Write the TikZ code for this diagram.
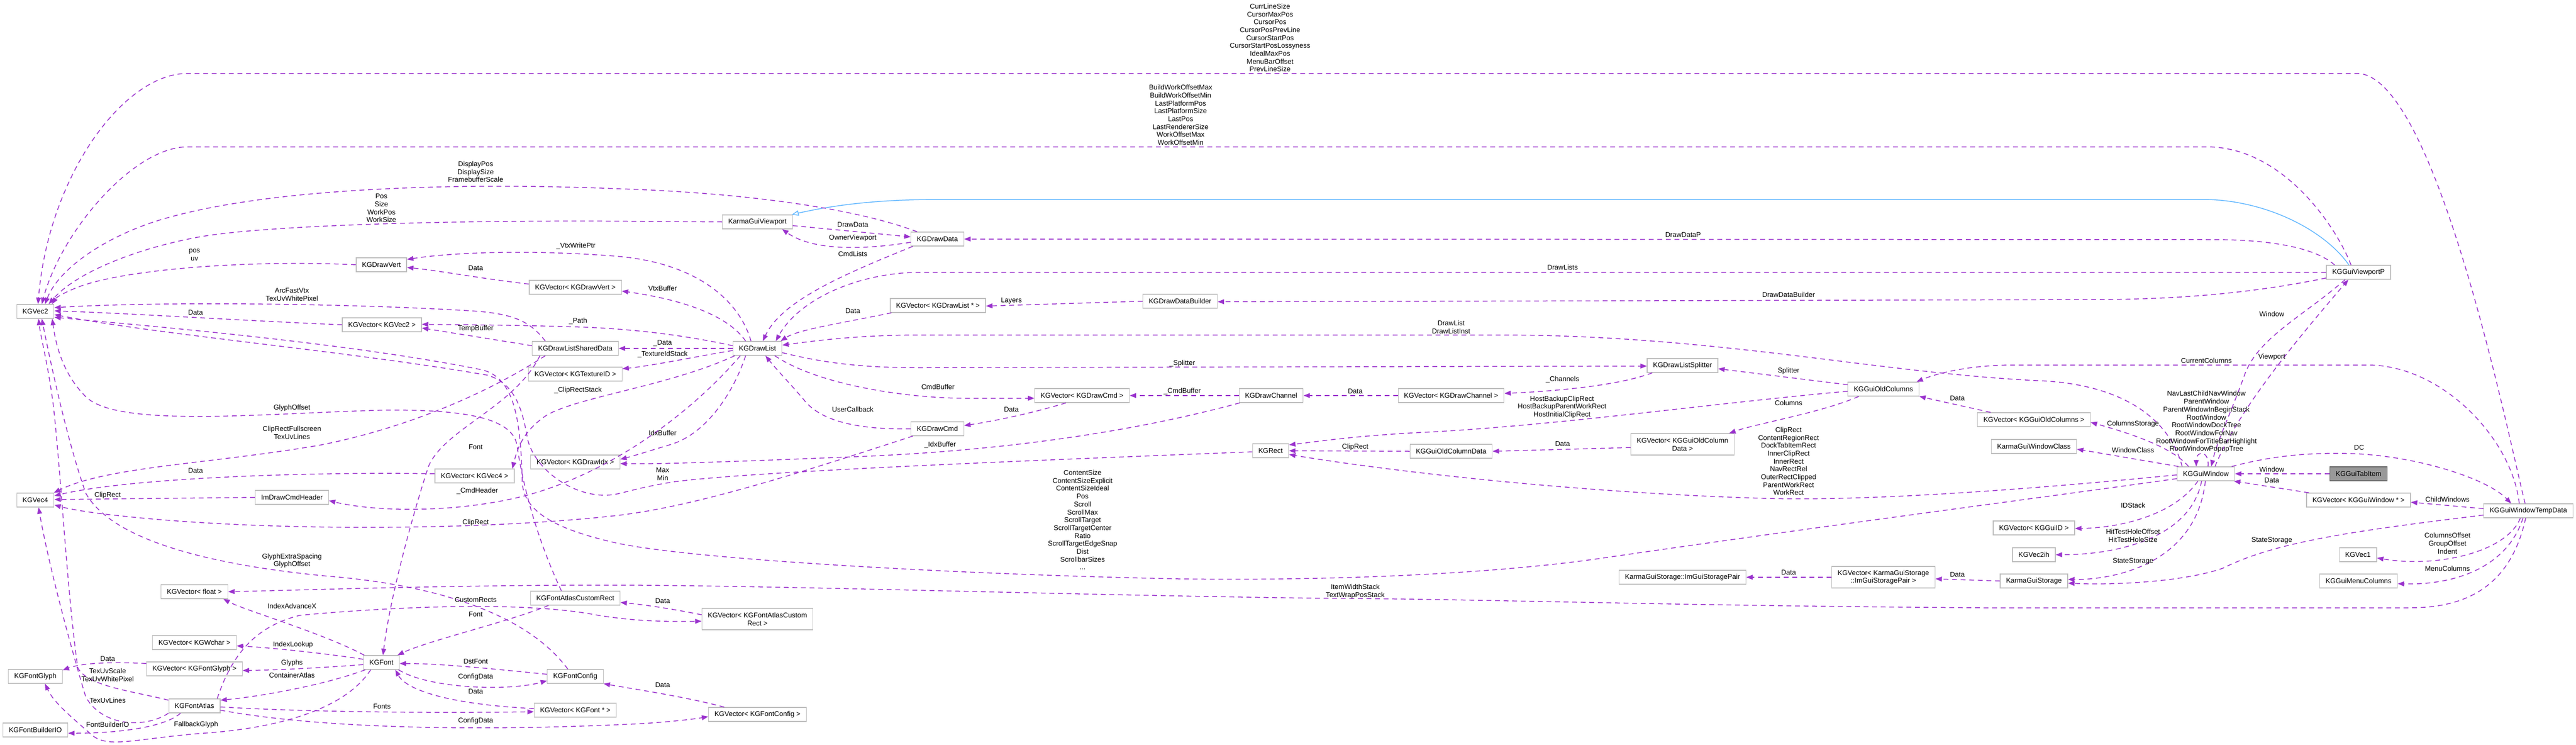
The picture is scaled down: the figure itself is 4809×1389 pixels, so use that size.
\documentclass[tikz,border=0pt]{standalone}
\usepackage{fontspec}
\setmainfont{Liberation Sans}
\usetikzlibrary{arrows.meta}
\definecolor{ecol}{HTML}{9A32CD}
\definecolor{icol}{HTML}{63B8FF}
\definecolor{bcol}{HTML}{BFBFBF}
\definecolor{hlfill}{HTML}{999999}
\definecolor{hldraw}{HTML}{666666}
\begin{document}
\begin{tikzpicture}[x=1pt,y=-1pt,
  every node/.style={font=\fontsize{13}{14.7}\selectfont},
  cls/.style={draw=bcol,fill=white,line width=1.3pt,minimum height=26pt,inner xsep=11pt,inner ysep=2pt,align=center},
  cls2/.style={cls,minimum height=40pt},
  hl/.style={cls,fill=hlfill,draw=hldraw},
  elab/.style={inner sep=0pt,align=center},
  usage/.style={draw=ecol,line width=1.5pt,dash pattern=on 9pt off 7pt,-{Triangle[length=12pt,width=9pt]}},
  inh/.style={draw=icol,line width=1.5pt,-{Triangle[open,length=13pt,width=10pt]}}]
\fill[white] (0,0) rectangle (4809,1389);
\useasboundingbox (0,0) rectangle (4809,1389);

% ---------------- nodes ----------------
\node[cls] (KGVec2) at (66,581) {KGVec2};
\node[cls] (KGVec4) at (66,933) {KGVec4};
\node[cls] (KGFontGlyph) at (66,1262) {KGFontGlyph};
\node[cls] (KGFontBuilderIO) at (66,1362) {KGFontBuilderIO};
\node[cls] (KGDrawVert) at (712,494) {KGDrawVert};
\node[cls] (KGVectorVec2) at (713,606) {KGVector< KGVec2 >};
\node[cls] (ImDrawCmdHeader) at (545,928) {ImDrawCmdHeader};
\node[cls] (KGVectorFloat) at (363,1104) {KGVector< float >};
\node[cls] (KGVectorWchar) at (363,1199) {KGVector< KGWchar >};
\node[cls] (KGVectorFontGlyph) at (363,1248) {KGVector< KGFontGlyph >};
\node[cls] (KGFontAtlas) at (363,1317) {KGFontAtlas};
\node[cls] (KGFont) at (712,1236) {KGFont};
\node[cls] (KGVectorDrawVert) at (1074,536) {KGVector< KGDrawVert >};
\node[cls] (KGDrawListSharedData) at (1074,650) {KGDrawListSharedData};
\node[cls] (KGVectorTextureID) at (1074,698) {KGVector< KGTextureID >};
\node[cls] (KGVectorDrawIdx) at (1074,862) {KGVector< KGDrawIdx >};
\node[cls] (KGVectorVec4) at (886,888) {KGVector< KGVec4 >};
\node[cls] (KGFontAtlasCustomRect) at (1074,1116) {KGFontAtlasCustomRect};
\node[cls] (KGFontConfig) at (1074,1262) {KGFontConfig};
\node[cls] (KGVectorFontPtr) at (1074,1325) {KGVector< KGFont * >};
\node[cls] (KarmaGuiViewport) at (1414,414) {KarmaGuiViewport};
\node[cls] (KGDrawList) at (1414,650) {KGDrawList};
\node[cls2] (KGVectorCustomRect) at (1414,1155) {KGVector< KGFontAtlasCustom\\Rect >};
\node[cls] (KGVectorFontConfig) at (1414,1333) {KGVector< KGFontConfig >};
\node[cls] (KGDrawData) at (1750,446) {KGDrawData};
\node[cls] (KGVectorDrawListPtr) at (1751,570) {KGVector< KGDrawList * >};
\node[cls] (KGDrawCmd) at (1750,800) {KGDrawCmd};
\node[cls] (KGVectorDrawCmd) at (2020,738) {KGVector< KGDrawCmd >};
\node[cls] (KGDrawDataBuilder) at (2203,562) {KGDrawDataBuilder};
\node[cls] (KGDrawChannel) at (2373,738) {KGDrawChannel};
\node[cls] (KGRect) at (2372,841) {KGRect};
\node[cls] (KGVectorDrawChannel) at (2709,738) {KGVector< KGDrawChannel >};
\node[cls] (KGGuiOldColumnData) at (2709,842) {KGGuiOldColumnData};
\node[cls] (KGDrawListSplitter) at (3141,682) {KGDrawListSplitter};
\node[cls2] (KGVectorOldColumnData) at (3141,829) {KGVector< KGGuiOldColumn\\Data >};
\node[cls] (StoragePair) at (3141,1077) {KarmaGuiStorage::ImGuiStoragePair};
\node[cls] (KGGuiOldColumns) at (3516,726) {KGGuiOldColumns};
\node[cls2] (KGVectorStoragePair) at (3516,1077) {KGVector< KarmaGuiStorage\\::ImGuiStoragePair >};
\node[cls] (KGVectorOldColumns) at (3797,783) {KGVector< KGGuiOldColumns >};
\node[cls] (KarmaGuiWindowClass) at (3797,833) {KarmaGuiWindowClass};
\node[cls] (KGVectorGuiID) at (3797,985) {KGVector< KGGuiID >};
\node[cls] (KGVec2ih) at (3797,1035) {KGVec2ih};
\node[cls] (KarmaGuiStorage) at (3797,1084) {KarmaGuiStorage};
\node[cls] (KGGuiWindow) at (4118,884) {KGGuiWindow};
\node[cls] (KGGuiViewportP) at (4403,508) {KGGuiViewportP};
\node[hl] (KGGuiTabItem) at (4403,884) {KGGuiTabItem};
\node[cls] (KGVectorWindowPtr) at (4403,933) {KGVector< KGGuiWindow * >};
\node[cls] (KGVec1) at (4402,1035) {KGVec1};
\node[cls] (KGGuiMenuColumns) at (4403,1084) {KGGuiMenuColumns};
\node[cls] (KGGuiWindowTempData) at (4720,953) {KGGuiWindowTempData};

% ---------------- edges ----------------
\draw[usage] ([xshift=-6pt]KGGuiWindowTempData.north) .. controls (4690,850) and (4550,137) .. (4400,137) -- (350,137) .. controls (230,137) and (90,330) .. ([xshift=5pt]KGVec2.north);
\draw[usage] ([xshift=-14pt]KGGuiViewportP.north) .. controls (4360,420) and (4260,274) .. (4120,274) -- (350,274) .. controls (250,274) and (115,430) .. ([xshift=12pt]KGVec2.north);
\draw[inh] ([xshift=-18pt]KGGuiViewportP.north) .. controls (4340,430) and (4230,372) .. (4110,372) -- (1760,372) .. controls (1640,372) and (1560,382) .. ([xshift=-2pt]KarmaGuiViewport.north east);
\draw[usage] ([xshift=16pt]KGGuiViewportP.north west) .. controls (4320,460) and (4230,447) .. (4130,447) -- (KGDrawData.east);
\draw[usage] (KGGuiViewportP.west) -- (1720,508) .. controls (1600,508) and (1490,560) .. ([xshift=-12pt]KGDrawList.north east);
\draw[usage] (KGGuiViewportP.190) .. controls (4200,548) and (4060,559) .. (3900,559) -- ([yshift=-1pt]KGDrawDataBuilder.east);
\draw[usage] ([xshift=-25pt]KGGuiViewportP.south) .. controls (4300,590) and (4215,630) .. (4190,700) .. controls (4165,770) and (4140,820) .. ([xshift=10pt]KGGuiWindow.north);
\draw[usage] ([xshift=17pt]KGGuiWindow.north) .. controls (4180,760) and (4300,620) .. ([xshift=-19pt]KGGuiViewportP.south);
\draw[usage] ([xshift=4pt]KGGuiWindow.north) .. controls (4125,840) and (4100,840) .. ([xshift=-18pt]KGGuiWindow.north);
\draw[usage] ([xshift=-6pt]KGGuiWindow.north east) .. controls (4250,848) and (4320,845) .. (4380,846) .. controls (4500,848) and (4640,890) .. ([xshift=-32pt]KGGuiWindowTempData.north);
\draw[usage] ([xshift=-17pt]KGGuiWindowTempData.north) .. controls (4690,820) and (4560,681) .. (4420,681) -- (3760,681) .. controls (3680,681) and (3620,695) .. ([xshift=-5pt]KGGuiOldColumns.north east);
\draw[usage] ([xshift=10pt]KGGuiWindow.north west) .. controls (4050,780) and (3960,715) .. (3800,710) .. controls (3500,695) and (3200,625) .. (2800,625) -- (1720,625) .. controls (1600,625) and (1520,636) .. ([yshift=6pt]KGDrawList.east);
\draw[usage] ([yshift=-8pt]KGDrawList.east) .. controls (1550,680) and (1620,686) .. (1720,686) -- ([yshift=-1pt]KGDrawListSplitter.west);
\draw[usage] (KGGuiOldColumns.173) -- ([yshift=-6pt]KGDrawListSplitter.east);
\draw[usage] ([xshift=-46pt]KGGuiOldColumns.south) .. controls (3400,770) and (3280,790) .. ([xshift=-10pt]KGVectorOldColumnData.north east);
\draw[usage] ([yshift=-4pt]KGGuiOldColumns.west) .. controls (3200,752) and (2900,795) .. (2650,807) .. controls (2530,813) and (2450,825) .. ([yshift=11pt]KGRect.east);
\draw[usage] (KGGuiOldColumnData.west) -- (KGRect.east);
\draw[usage] ([yshift=-2pt]KGGuiWindow.west) .. controls (3800,912) and (3500,935) .. (3300,930) .. controls (2950,920) and (2600,880) .. ([yshift=-7pt]KGRect.east);
\draw[usage] ([yshift=-9pt]KGGuiWindow.west) .. controls (3800,930) and (3450,975) .. (3000,1040) .. controls (2800,1070) and (2500,1084) .. (2200,1080) .. controls (1800,1072) and (1300,1045) .. (1150,1013) .. controls (1050,990) and (978,960) .. (975,900) .. controls (972,780) and (960,705) .. (900,690) .. controls (650,640) and (300,610) .. ([yshift=-11pt]KGVec2.east);
\draw[usage] ([yshift=-2pt]KGRect.west) .. controls (1900,860) and (1400,880) .. (1258,899) .. controls (1200,908) and (1170,918) .. (1150,922) .. controls (1080,935) and (1000,880) .. (985,820) .. controls (975,760) and (960,715) .. (910,700) .. controls (650,655) and (300,625) .. ([yshift=-6pt]KGVec2.east);
\draw[usage] ([xshift=3pt]KGGuiWindow.north west) -- ([yshift=-5pt]KarmaGuiWindowClass.east);
\draw[usage] ([xshift=22pt]KGGuiWindow.north west) .. controls (4060,840) and (4000,815) .. ([yshift=-5pt]KGVectorOldColumns.east);
\draw[usage] ([xshift=-15pt]KGGuiWindow.south) .. controls (4060,960) and (3960,985) .. ([yshift=-1pt]KGVectorGuiID.east);
\draw[usage] ([xshift=-8pt]KGGuiWindow.south) .. controls (4090,1000) and (3960,1035) .. (KGVec2ih.east);
\draw[usage] ([xshift=-1pt]KGGuiWindow.south) .. controls (4100,1050) and (3950,1082) .. ([yshift=3pt]KarmaGuiStorage.east);
\draw[usage] ([yshift=-8pt]KGGuiWindowTempData.west) .. controls (4400,990) and (4250,1010) .. (4150,1060) .. controls (4080,1085) and (3950,1092) .. ([yshift=-4pt]KarmaGuiStorage.east);
\draw[usage] (KarmaGuiStorage.west) -- ([yshift=-3pt]KGVectorStoragePair.east);
\draw[usage] (KGVectorStoragePair.west) -- (StoragePair.east);
\draw[usage] ([xshift=-15pt]KGGuiWindowTempData.south) .. controls (4680,1030) and (4550,1060) .. ([yshift=-6pt]KGVec1.east);
\draw[usage] ([xshift=-10pt]KGGuiWindowTempData.south) .. controls (4680,1060) and (4580,1092) .. ([yshift=-5pt]KGGuiMenuColumns.east);
\draw[usage] ([xshift=-5pt]KGGuiWindowTempData.south) .. controls (4690,1080) and (4620,1134) .. (4500,1134) -- (3700,1134) .. controls (3100,1130) and (2800,1118) .. (2450,1116) .. controls (2000,1110) and (1500,1094) .. (1200,1092) .. controls (900,1090) and (600,1100) .. (KGVectorFloat.east);
\draw[usage] ([yshift=4pt]KGGuiWindowTempData.west) -- ([yshift=-4pt]KGVectorWindowPtr.east);
\draw[usage] ([xshift=5pt]KGVectorWindowPtr.north west) -- ([xshift=-2pt]KGGuiWindow.south east);
\draw[usage] (KGGuiTabItem.west) -- (KGGuiWindow.east);
\draw[usage] ([xshift=25pt]KGVectorOldColumns.north west) -- (KGGuiOldColumns.south east);
\draw[usage] ([xshift=10pt]KGDrawListSplitter.south west) .. controls (3020,720) and (2900,730) .. ([yshift=4pt]KGVectorDrawChannel.east);
\draw[usage] (KGVectorDrawChannel.west) -- (KGDrawChannel.east);
\draw[usage] ([yshift=-6pt]KGVectorOldColumnData.west) -- (KGGuiOldColumnData.east);
\draw[usage] (KGDrawChannel.west) -- (KGVectorDrawCmd.east);
\draw[usage] ([xshift=2pt]KGDrawChannel.south west) .. controls (2100,810) and (1850,842) .. (1600,852) .. controls (1400,860) and (1250,866) .. ([yshift=-3pt]KGVectorDrawIdx.east);
\draw[usage] ([xshift=-14pt]KGDrawList.south east) .. controls (1530,720) and (1700,743) .. (1800,743) -- ([yshift=-5pt]KGVectorDrawCmd.west);
\draw[usage] ([xshift=-30pt]KGVectorDrawCmd.south) .. controls (1930,770) and (1860,785) .. ([yshift=6pt]KGDrawCmd.east);
\draw[usage] (KGDrawCmd.west) .. controls (1600,802) and (1530,785) .. (1500,745) .. controls (1470,710) and (1450,690) .. ([xshift=15pt]KGDrawList.south);
\draw[usage] ([xshift=-22pt]KGDrawList.south) .. controls (1370,730) and (1320,810) .. (1250,830) .. controls (1210,842) and (1185,850) .. ([yshift=5pt]KGVectorDrawIdx.east);
\draw[usage] ([xshift=4pt]KGDrawCmd.south west) .. controls (1500,880) and (1300,945) .. (1150,962) .. controls (900,990) and (500,992) .. (230,963) .. controls (170,957) and (130,950) .. ([yshift=-9pt]KGVec4.east);
\draw[usage] ([xshift=-32pt]KGDrawList.south) .. controls (1300,760) and (1150,880) .. (980,925) .. controls (850,958) and (700,955) .. ([yshift=-6pt]ImDrawCmdHeader.east);
\draw[usage] ([xshift=4pt]KGDrawList.south west) .. controls (1250,720) and (1080,740) .. (1020,775) .. controls (975,805) and (965,840) .. ([xshift=-4pt]KGVectorVec4.north east);
\draw[usage] ([yshift=-4pt]KGDrawList.west) .. controls (1300,665) and (1220,682) .. ([yshift=10pt]KGVectorTextureID.east);
\draw[usage] (KGDrawList.west) -- (KGDrawListSharedData.east);
\draw[usage] ([yshift=5pt]KGDrawList.west) .. controls (1300,630) and (1200,614) .. (1079,610) .. controls (950,606) and (850,606) .. ([yshift=1pt]KGVectorVec2.east);
\draw[usage] ([xshift=-22pt]KGDrawList.north) .. controls (1360,590) and (1280,560) .. ([yshift=-7pt]KGVectorDrawVert.east);
\draw[usage] ([xshift=-12pt]KGDrawList.north) .. controls (1380,560) and (1300,490) .. (1150,478) .. controls (1000,466) and (850,470) .. ([yshift=10pt]KGDrawVert.east);
\draw[usage] ([xshift=4pt]KGDrawData.south west) .. controls (1580,510) and (1460,560) .. ([xshift=10pt]KGDrawList.north);
\draw[usage] ([xshift=3pt]KGVectorDrawListPtr.south west) .. controls (1560,605) and (1490,615) .. ([xshift=-3pt]KGDrawList.north east);
\draw[usage] (KGDrawDataBuilder.west) -- ([yshift=-1pt]KGVectorDrawListPtr.east);
\draw[usage] ([yshift=-7pt]KarmaGuiViewport.east) -- ([yshift=4pt]KGDrawData.west);
\draw[usage] ([yshift=-6pt]KGDrawData.west) .. controls (1620,465) and (1520,470) .. ([xshift=-20pt]KarmaGuiViewport.south east);
\draw[usage] ([xshift=12pt]KGDrawData.north west) .. controls (1600,390) and (1400,360) .. (1150,352) .. controls (850,340) and (500,350) .. (300,410) .. controls (200,440) and (110,500) .. ([xshift=18pt]KGVec2.north);
\draw[usage] (KarmaGuiViewport.west) -- (1200,413) .. controls (900,410) and (500,418) .. (367,443) .. controls (250,465) and (140,510) .. ([xshift=25pt]KGVec2.north);
\draw[usage] (KGDrawVert.west) .. controls (480,485) and (250,500) .. (153,533) .. controls (120,545) and (105,555) .. ([xshift=31pt]KGVec2.north);
\draw[usage] ([yshift=6pt]KGVectorDrawVert.west) .. controls (900,520) and (820,505) .. ([yshift=-5pt]KGDrawVert.east);
\draw[usage] ([xshift=25pt]KGDrawListSharedData.north west) .. controls (990,600) and (960,585) .. (880,580) .. controls (650,566) and (300,562) .. ([yshift=7pt]KGVec2.east);
\draw[usage] (KGVectorVec2.west) .. controls (450,598) and (250,585) .. ([yshift=1pt]KGVec2.east);
\draw[usage] ([yshift=5pt]KGDrawListSharedData.west) .. controls (900,630) and (850,622) .. ([yshift=-6pt]KGVectorVec2.east);
\draw[usage] ([xshift=15pt]KGDrawListSharedData.south west) .. controls (960,760) and (830,800) .. (800,870) .. controls (780,930) and (730,1100) .. ([xshift=3pt]KGFont.north);
\draw[usage] ([xshift=25pt]KGDrawListSharedData.south west) .. controls (900,740) and (750,800) .. (600,830) .. controls (400,865) and (200,870) .. ([xshift=-1pt]KGVec4.north east);
\draw[usage] ([xshift=-26pt]KGFontAtlasCustomRect.north) .. controls (1000,1000) and (975,900) .. (965,830) .. controls (955,775) and (850,765) .. (727,765) .. controls (500,770) and (220,800) .. (160,740) .. controls (120,700) and (105,650) .. ([xshift=-4pt]KGVec2.south east);
\draw[usage] ([yshift=-3pt]KGFontAtlas.north west) .. controls (250,1290) and (160,1280) .. (145,1245) .. controls (125,1100) and (115,900) .. (100,760) .. controls (90,680) and (76,630) .. ([xshift=6pt]KGVec2.south);
\draw[usage] ([xshift=-14pt]KGFontConfig.north) .. controls (980,1140) and (800,1090) .. (612,1075) .. controls (400,1055) and (210,1010) .. (160,920) .. controls (125,820) and (95,680) .. ([xshift=12pt]KGVec2.south);
\draw[usage] (KGFontAtlas.south west) .. controls (270,1360) and (190,1355) .. (160,1300) .. controls (130,1200) and (90,1050) .. ([xshift=6pt]KGVec4.south);
\draw[usage] ([xshift=-20pt]KGFont.south) .. controls (640,1330) and (500,1360) .. (380,1368) .. controls (250,1378) and (200,1398) .. (170,1370) .. controls (130,1335) and (100,1310) .. ([xshift=18pt]KGFontGlyph.south);
\draw[usage] ([xshift=-26pt]KGFontAtlas.south) .. controls (310,1355) and (230,1368) .. ([yshift=-6pt]KGFontBuilderIO.east);
\draw[usage] ([yshift=10pt]KGVectorFontGlyph.west) .. controls (200,1234) and (150,1238) .. ([yshift=-2pt]KGFontGlyph.north east);
\draw[usage] ([xshift=2pt]KGFont.north west) .. controls (600,1180) and (460,1140) .. ([xshift=-9pt]KGVectorFloat.south east);
\draw[usage] ([yshift=6pt]KGFont.west) .. controls (600,1218) and (500,1208) .. ([yshift=-6pt]KGVectorWchar.east);
\draw[usage] ([yshift=-4pt]KGFont.west) .. controls (600,1246) and (520,1250) .. ([yshift=-3pt]KGVectorFontGlyph.east);
\draw[usage] ([xshift=4pt]KGFont.south west) .. controls (600,1280) and (480,1300) .. ([yshift=-3pt]KGFontAtlas.north east);
\draw[usage] ([xshift=-6pt]KGFontAtlas.north east) .. controls (430,1230) and (470,1170) .. (560,1148) .. controls (700,1135) and (950,1120) .. (1100,1145) .. controls (1180,1160) and (1250,1160) .. ([yshift=-4pt]KGVectorCustomRect.west);
\draw[usage] ([xshift=-50pt]KGFontAtlasCustomRect.south) .. controls (950,1160) and (800,1195) .. ([xshift=-4pt]KGFont.north east);
\draw[usage] ([yshift=8pt]KGVectorCustomRect.west) .. controls (1250,1135) and (1200,1128) .. ([yshift=-8pt]KGFontAtlasCustomRect.east);
\draw[usage] ([yshift=4pt]KGFontConfig.west) .. controls (900,1246) and (820,1238) .. ([yshift=-2pt]KGFont.east);
\draw[usage] ([xshift=-2pt]KGFont.south east) .. controls (800,1285) and (950,1290) .. ([yshift=-8pt]KGFontConfig.west);
\draw[usage] ([yshift=3pt]KGVectorFontPtr.west) .. controls (850,1315) and (760,1290) .. ([xshift=-8pt]KGFont.south east);
\draw[usage] ([yshift=-2pt]KGFontAtlas.east) .. controls (600,1330) and (850,1330) .. ([yshift=-3pt]KGVectorFontPtr.west);
\draw[usage] ([yshift=-8pt]KGFontAtlas.east) .. controls (600,1360) and (900,1365) .. (1200,1350) .. controls (1260,1346) and (1300,1341) .. ([yshift=-4pt]KGVectorFontConfig.west);
\draw[usage] ([xshift=30pt]KGVectorFontConfig.north west) .. controls (1280,1300) and (1180,1285) .. (KGFontConfig.south east);
\draw[usage] ([yshift=4pt]KGVectorVec4.west) .. controls (600,880) and (250,890) .. ([yshift=8pt]KGVec4.east);
\draw[usage] (ImDrawCmdHeader.west) -- ([yshift=1pt]KGVec4.east);

% ---------------- labels ----------------
\node[elab] (l1) at (2371,70.5) {CurrLineSize\\CursorMaxPos\\CursorPos\\CursorPosPrevLine\\CursorStartPos\\CursorStartPosLossyness\\IdealMaxPos\\MenuBarOffset\\PrevLineSize};
\node[elab] (l2) at (2204,214.5) {BuildWorkOffsetMax\\BuildWorkOffsetMin\\LastPlatformPos\\LastPlatformSize\\LastPos\\LastRendererSize\\WorkOffsetMax\\WorkOffsetMin};
\node[elab] (l3) at (888,320.5) {DisplayPos\\DisplaySize\\FramebufferScale};
\node[elab] (l4) at (712,388.5) {Pos\\Size\\WorkPos\\WorkSize};
\node[elab] (l5) at (363,475.5) {pos\\uv};
\node[elab] (l6) at (1075,459) {\_VtxWritePtr};
\node[elab] (l7) at (888,500) {Data};
\node[elab] (l8) at (1237,538) {VtxBuffer};
\node[elab] (l9) at (545,549.5) {ArcFastVtx\\TexUvWhitePixel};
\node[elab] (l10) at (365,583) {Data};
\node[elab] (l11) at (1079,599) {\_Path};
\node[elab] (l12) at (888,613) {TempBuffer};
\node[elab] (l13) at (1237,640) {\_Data};
\node[elab] (l14) at (1237,661) {\_TextureIdStack};
\node[elab] (l15) at (1079,728) {\_ClipRectStack};
\node[elab] (l16) at (545,761) {GlyphOffset};
\node[elab] (l17) at (545,807) {ClipRectFullscreen\\TexUvLines};
\node[elab] (l18) at (888,834) {Font};
\node[elab] (l19) at (1237,808) {IdxBuffer};
\node[elab] (l20) at (365,878) {Data};
\node[elab] (l21) at (891,916) {\_CmdHeader};
\node[elab] (l22) at (201,924) {ClipRect};
\node[elab] (l23) at (888,975) {ClipRect};
\node[elab] (l24) at (1237,884.5) {Max\\Min};
\node[elab] (l25) at (545,1046) {GlyphExtraSpacing\\GlyphOffset};
\node[elab] (l26) at (888,1119) {CustomRects};
\node[elab] (l27) at (888,1146) {Font};
\node[elab] (l28) at (545,1131) {IndexAdvanceX};
\node[elab] (l29) at (547,1203) {IndexLookup};
\node[elab] (l30) at (545,1237) {Glyphs};
\node[elab] (l31) at (545,1260) {ContainerAtlas};
\node[elab] (l32) at (888,1234) {DstFont};
\node[elab] (l33) at (888,1263) {ConfigData};
\node[elab] (l34) at (888,1290) {Data};
\node[elab] (l35) at (201,1229) {Data};
\node[elab] (l36) at (201,1259.5) {TexUvScale\\TexUvWhitePixel};
\node[elab] (l37) at (201,1307) {TexUvLines};
\node[elab] (l38) at (713,1318) {Fonts};
\node[elab] (l39) at (888,1345) {ConfigData};
\node[elab] (l40) at (201,1352) {FontBuilderIO};
\node[elab] (l41) at (366,1352) {FallbackGlyph};
\node[elab] (l42) at (1237,1121) {Data};
\node[elab] (l43) at (1237,1278) {Data};
\node[elab] (l44) at (1592,419) {DrawData};
\node[elab] (l45) at (1592,444) {OwnerViewport};
\node[elab] (l46) at (1592,474) {CmdLists};
\node[elab] (l47) at (1888,561) {Layers};
\node[elab] (l48) at (1592,580) {Data};
\node[elab] (l49) at (2207,678) {\_Splitter};
\node[elab] (l50) at (1751,722) {CmdBuffer};
\node[elab] (l51) at (2207,730) {\_CmdBuffer};
\node[elab] (l52) at (1592,764) {UserCallback};
\node[elab] (l53) at (1888,764) {Data};
\node[elab] (l54) at (1755,830) {\_IdxBuffer};
\node[elab] (l55) at (2021,970) {ContentSize\\ContentSizeExplicit\\ContentSizeIdeal\\Pos\\Scroll\\ScrollMax\\ScrollTarget\\ScrollTargetCenter\\Ratio\\ScrollTargetEdgeSnap\\Dist\\ScrollbarSizes\\...};
\node[elab] (l56) at (3142,438) {DrawDataP};
\node[elab] (l57) at (2917,499) {DrawLists};
\node[elab] (l58) at (3339,550) {DrawDataBuilder};
\node[elab] (l59) at (2709,610.5) {DrawList\\DrawListInst};
\node[elab] (l60) at (3339,692) {Splitter};
\node[elab] (l61) at (2917,708) {\_Channels};
\node[elab] (l62) at (2530,730) {Data};
\node[elab] (l63) at (2916,759.5) {HostBackupClipRect\\HostBackupParentWorkRect\\HostInitialClipRect};
\node[elab] (l64) at (3339,752) {Columns};
\node[elab] (l65) at (3654,743) {Data};
\node[elab] (l66) at (2917,828) {Data};
\node[elab] (l67) at (2530,834) {ClipRect};
\node[elab] (l68) at (3339,860.5) {ClipRect\\ContentRegionRect\\DockTabItemRect\\InnerClipRect\\InnerRect\\NavRectRel\\OuterRectClipped\\ParentWorkRect\\WorkRect};
\node[elab] (l69) at (3339,1068) {Data};
\node[elab] (l70) at (3654,1072) {Data};
\node[elab] (l71) at (2530,1103.5) {ItemWidthStack\\TextWrapPosStack};
\node[elab] (l72) at (4241,586) {Window};
\node[elab] (l73) at (4241,666) {Viewport};
\node[elab] (l74) at (4119,673) {CurrentColumns};
\node[elab] (l75) at (4119,787) {NavLastChildNavWindow\\ParentWindow\\ParentWindowInBeginStack\\RootWindow\\RootWindowDockTree\\RootWindowForNav\\RootWindowForTitleBarHighlight\\RootWindowPopupTree};
\node[elab] (l76) at (3982,791) {ColumnsStorage};
\node[elab] (l77) at (3982,840) {WindowClass};
\node[elab] (l78) at (4404,835) {DC};
\node[elab] (l79) at (4241,876) {Window};
\node[elab] (l80) at (4241,896) {Data};
\node[elab] (l81) at (4569,932) {ChildWindows};
\node[elab] (l82) at (3982,943) {IDStack};
\node[elab] (l83) at (3982,999.5) {HitTestHoleOffset\\HitTestHoleSize};
\node[elab] (l84) at (3982,1047) {StateStorage};
\node[elab] (l85) at (4241,1008) {StateStorage};
\node[elab] (l86) at (4569,1014) {ColumnsOffset\\GroupOffset\\Indent};
\node[elab] (l87) at (4569,1061) {MenuColumns};
\end{tikzpicture}
\end{document}
